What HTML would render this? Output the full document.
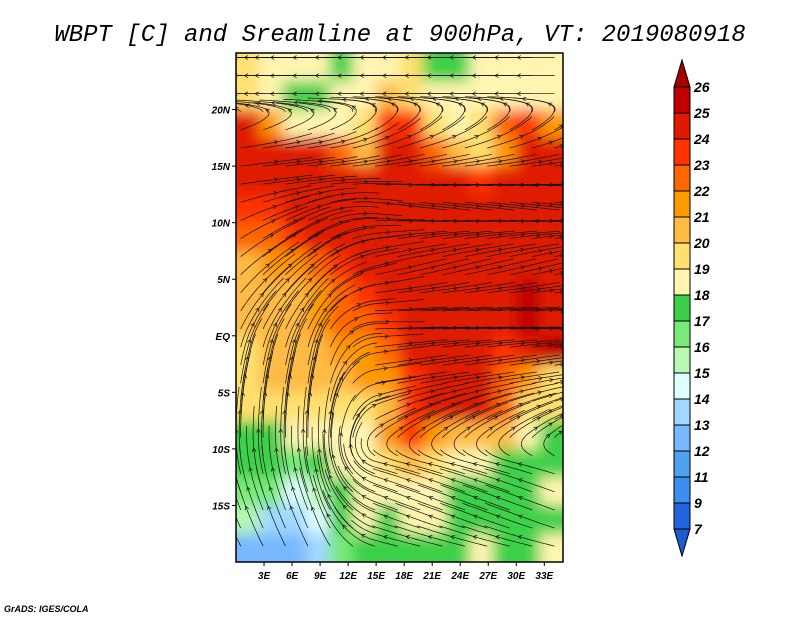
<!DOCTYPE html>
<html><head><meta charset="utf-8">
<style>
body{margin:0;background:#fff;width:800px;height:618px;overflow:hidden;font-family:"Liberation Sans",sans-serif}
svg{position:absolute;left:0;top:0}
</style></head>
<body>
<svg id="chart" width="800" height="618" xmlns="http://www.w3.org/2000/svg">
<defs>
<clipPath id="mapclip"><rect x="236" y="53" width="327" height="509"/></clipPath>
<filter id="blur" filterUnits="userSpaceOnUse" x="150" y="0" width="500" height="650"><feGaussianBlur stdDeviation="7"/></filter>
</defs>
<text x="400" y="41" text-anchor="middle" font-family="Liberation Mono, monospace" font-style="italic" font-size="24" fill="#000">WBPT [C] and Sreamline at 900hPa, VT: 2019080918</text>
<g id="field" clip-path="url(#mapclip)"></g>
<g id="stream" clip-path="url(#mapclip)"></g>
<rect x="236" y="53" width="327" height="509" fill="none" stroke="#000" stroke-width="1.5"/>
<g id="axes" font-family="Liberation Sans, sans-serif" font-style="italic" font-weight="bold" font-size="10"></g>
<g id="cbar"></g>
<text x="4" y="612" font-family="Liberation Sans, sans-serif" font-style="italic" font-weight="bold" font-size="9">GrADS: IGES/COLA</text>
</svg>
<script>
// ---- data ----
const lons = [1.25,3.75,6.25,8.75,11.25,13.75,16.25,18.75,21.25,23.75,26.25,28.75,31.25,33.75];
const lats = [23.75,21.25,18.75,16.25,13.75,11.25,8.75,6.25,3.75,1.25,-1.25,-3.75,-6.25,-8.75,-11.25,-13.75,-16.25,-18.75];
const wbpt = [
[19,18.5,18.5,18.5,17.5,18,18.5,19,17.5,17.5,18.5,18.5,18.5,18.5],
[19.5,18.5,17.5,17.5,18.5,18.5,20,19,18.5,18.5,18.5,18.5,18.5,18.5],
[24,21,18.5,18.5,18.5,19,23.5,23.5,19.5,18.5,19,22.5,23.5,21],
[24.5,24.5,24.5,24,22,20,24,24,22,20,19.5,21,24,24],
[24.5,24.5,24.5,24.5,24.5,24.5,24.5,24.5,24.5,24.5,23,24.5,24.5,24.5],
[23.5,23.5,24,24,24.5,24,24,24,24,24,24,24,24,24],
[22.5,22,23.5,24,24,24,24,24,24,24,24,24,24,24],
[20.5,21,21.5,22.5,23.5,24,24,24,24,24,24,24,24,24.5],
[20.5,20.5,20.5,21.5,22.5,23.5,24,24,24,24,24,24,25,24.5],
[20.5,20.5,20.5,21,22.5,22,23.5,24,24,24,24,24,25,24],
[19.5,20.5,20.5,20.5,21.5,21.5,22.5,24,24,24,24,23,24.5,25],
[19.5,20,20.5,20.5,20,21,21.5,23.5,24,24,24,22.5,21,19.5],
[19.5,19.5,19.5,19.5,19,19.5,20.5,23.5,24,24,24,22,19,19],
[17.5,17.5,18,18.5,18.5,18.5,21,23,21,20.5,20.5,20,18.5,17.5],
[17,17,16.5,17,18.5,18.5,19.5,20,19,18.5,18.5,17.5,17,17.5],
[16.5,16,14.5,15.5,17.5,18.5,18.5,18.5,18,17.5,17,17.5,17.5,18.5],
[15,13.5,13.5,14,17,18.5,17.5,18.5,18.5,17.5,17,17.5,17.5,17.5],
[12,12,12.5,13.5,16,17.5,17.5,17.5,17.5,17.5,18,17.5,17,18]
];
// wind per latitude row: west (ocean, lon<12) and east (land) components
const uWest = [-1,-1,0.5,1,1,1,1,1,0.8,0.6,0.3,0.2,0.1,0,-0.2,-0.4,-0.5,-0.6];
const vWest = [0,0,0.2,0.1,0.1,0.3,0.5,0.7,0.8,0.9,1,1,1,1,1,1,1,1];
const uEast = [-0.5,-0.6,0.5,1,1,1,1,1,1,1,0.9,0.8,0.6,0.3,-0.5,-1,-1,-1];
const vEast = [0,0,0.3,0.2,0,-0.1,0.1,0.2,0.1,0,0.1,0.1,0.2,0.2,0.1,0.3,0.3,0.2];
const levels = [7,9,11,12,13,14,15,16,17,18,19,20,21,22,23,24,25,26];
const levelColors = ['#1e5ad0','#2264e0','#3c8ef0','#50a0f0','#78b8ff','#a0d8ff','#e0ffff','#b8f8b0','#78ea78','#3cd04a','#fff5b0','#ffe070','#ffbb44','#ff9900','#ff6600','#ff3300','#e01a00','#c00000','#a80000'];
const latTicks = [20,15,10,5,0,-5,-10,-15];
const latLabels = ['20N','15N','10N','5N','EQ','5S','10S','15S'];
const lonTicks = [3,6,9,12,15,18,21,24,27,30,33];
const lonLabels = ['3E','6E','9E','12E','15E','18E','21E','24E','27E','30E','33E'];
const cbLabels = ['26','25','24','23','22','21','20','19','18','17','16','15','14','13','12','11','9','7'];

// ---- axes ----
const X0=236,X1=563,Y0=53,Y1=562,LON0=0,LON1=35,LAT0=25,LAT1=-20;
const xS = lon => X0 + (lon-LON0)/(LON1-LON0)*(X1-X0);
const yS = lat => Y0 + (LAT0-lat)/(LAT0-LAT1)*(Y1-Y0);
const NS='http://www.w3.org/2000/svg';
function mk(tag,attrs,parent){const e=document.createElementNS(NS,tag);for(const k in attrs)e.setAttribute(k,attrs[k]);parent.appendChild(e);return e;}
function colorFor(v){let i=0;while(i<levels.length&&v>=levels[i])i++;return levelColors[i];}

// field
const field=document.getElementById('field');
const fg=mk('g',{filter:'url(#blur)'},field);
const dLon=2.5,dLat=2.5;
for(let r=0;r<lats.length;r++)for(let c=0;c<lons.length;c++){
  const x=xS(lons[c]-dLon/2-(c==0?3:0)), x2=xS(lons[c]+dLon/2+(c==lons.length-1?3:0));
  const y=yS(lats[r]+dLat/2+(r==0?3:0)), y2=yS(lats[r]-dLat/2-(r==lats.length-1?3:0));
  const el=mk('rect',{x:x,y:y,width:x2-x+0.5,height:y2-y+0.5,fill:colorFor(wbpt[r][c])},fg);
  
  
}

// streamlines
function wind(lon,lat){
  let rf=(lats[0]-lat)/2.5; rf=Math.max(0,Math.min(lats.length-1,rf));
  const r0=Math.floor(rf), r1=Math.min(lats.length-1,r0+1), t=rf-r0;
  const w=Math.max(0,Math.min(1,(lon-9)/6));
  const uw=uWest[r0]*(1-t)+uWest[r1]*t, vw=vWest[r0]*(1-t)+vWest[r1]*t;
  const ue=uEast[r0]*(1-t)+uEast[r1]*t, ve=vEast[r0]*(1-t)+vEast[r1]*t;
  return [uw*(1-w)+ue*w, vw*(1-w)+ve*w];
}
const st=document.getElementById('stream');
for(let lat=24;lat>-20;lat-=1.6){
  for(let lon=0.5;lon<35;lon+=2.4){
    const pts=[];let a=lon,b=lat+((Math.round(lon*10))%3)*0.3;
    for(let s=0;s<32;s++){
      pts.push([xS(a),yS(b)]);
      const w=wind(a,b);const m=Math.hypot(w[0],w[1])||1;
      a+=w[0]/m*0.25;b+=w[1]/m*0.25;
      if(a<-1||a>36||b<-21||b>26)break;
    }
    if(pts.length<3)continue;
    const p=mk('polyline',{points:pts.map(q=>q[0].toFixed(1)+','+q[1].toFixed(1)).join(' '),fill:'none',stroke:'#111','stroke-width':0.7},st);
    
    
    const k=Math.floor(pts.length/2);
    if(k>0){const [x1,y1]=pts[k-1],[x2,y2]=pts[k];const ang=Math.atan2(y2-y1,x2-x1);
      const ax=x2-4*Math.cos(ang-0.5),ay=y2-4*Math.sin(ang-0.5),bx=x2-4*Math.cos(ang+0.5),by=y2-4*Math.sin(ang+0.5);
      const h=mk('polyline',{points:`${ax},${ay} ${x2},${y2} ${bx},${by}`,fill:'none',stroke:'#111','stroke-width':0.7},st);
      
      }
  }
}

// axes
const ax=document.getElementById('axes');
latTicks.forEach((lt,i)=>{
  const y=yS(lt);
  mk('line',{x1:X0-4,x2:X0,y1:y,y2:y,stroke:'#000'},ax);
  const t=mk('text',{x:X0-6,y:y+4,'text-anchor':'end'},ax);t.textContent=latLabels[i];
  
  
});
lonTicks.forEach((ln,i)=>{
  const x=xS(ln);
  mk('line',{x1:x,x2:x,y1:Y1,y2:Y1+4,stroke:'#000'},ax);
  const t=mk('text',{x:x,y:Y1+17,'text-anchor':'middle'},ax);t.textContent=lonLabels[i];
  
  
});

// colorbar
const cb=document.getElementById('cbar');
const cx0=674,cx1=690,cy0=87,bh=26,nb=17;
const tri1=mk('polygon',{points:`${cx0},${cy0} ${cx1},${cy0} ${(cx0+cx1)/2},60`,fill:levelColors[18],stroke:'#000','stroke-width':1},cb);


for(let i=0;i<nb;i++){
  const r=mk('rect',{x:cx0,y:cy0+i*bh,width:cx1-cx0,height:bh,fill:levelColors[17-i],stroke:'#000','stroke-width':1},cb);
  
  
}
const yb=cy0+nb*bh;
const tri2=mk('polygon',{points:`${cx0},${yb} ${cx1},${yb} ${(cx0+cx1)/2},556`,fill:levelColors[0],stroke:'#000','stroke-width':1},cb);


cbLabels.forEach((l,i)=>{
  const t=mk('text',{x:694,y:cy0+i*bh+5,'font-family':'Liberation Sans, sans-serif','font-style':'italic','font-weight':'bold','font-size':14},cb);
  t.textContent=l;
  
  
});
</script>
</body></html>
